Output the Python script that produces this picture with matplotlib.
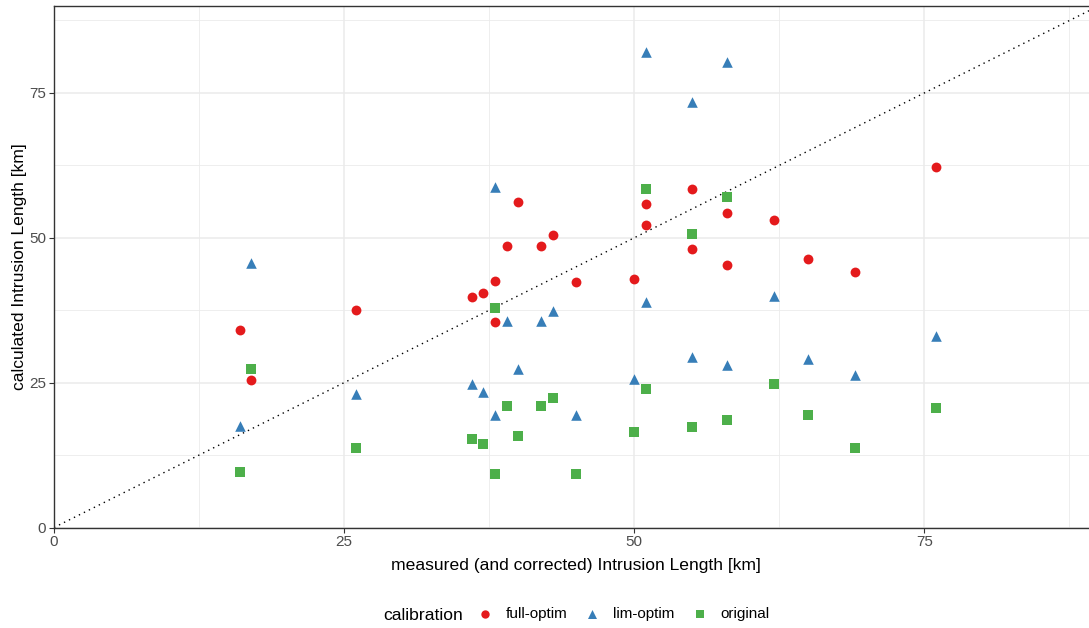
import matplotlib.pyplot as plt
import numpy as np

plt.rcParams['font.family'] = ['Liberation Sans', 'DejaVu Sans']

# measured (and corrected) intrusion length [km]
mesure = [16, 17, 26, 36, 37, 38, 38, 39, 40, 42, 43, 45, 50, 51, 51, 55, 55, 58, 58, 62, 65, 69, 76]

# calculated intrusion length [km] per calibration
full_optim = [34.0, 25.4, 37.6, 39.7, 40.5, 42.6, 35.5, 48.6, 56.2, 48.6, 50.5, 42.4,
              42.9, 55.8, 52.2, 58.5, 48.0, 54.3, 45.3, 53.0, 46.4, 44.1, 62.2]
lim_optim = [17.6, 45.7, 23.0, 24.8, 23.4, 58.7, 19.4, 35.6, 27.4, 35.6, 37.3, 19.4,
             25.7, 82.1, 39.0, 73.4, 29.4, 80.4, 28.0, 39.9, 29.0, 26.4, 33.0]
original = [9.5, 27.3, 13.7, 15.3, 14.4, 37.8, 9.3, 20.9, 15.8, 20.9, 22.3, 9.3,
            16.4, 58.5, 23.9, 50.6, 17.4, 57.0, 18.5, 24.7, 19.4, 13.8, 20.6]

series = ["full-optim", "lim-optim", "original"]
couleurs = ["#E41A1C", "#377EB8", "#4DAF4A"]
marqueurs = ["o", "^", "s"]
tailles = [50, 58, 42]

fig = plt.figure(figsize=(10.89, 6.28), dpi=100)
ax = fig.add_axes([54 / 1089, 1 - 527.5 / 628, (1098.5 - 54) / 1089, (527.5 - 6) / 628])

# ligne 1:1
ax.plot([0, 90], [0, 90], linestyle=(0, (1, 3)), color="black", linewidth=1.0, zorder=2)

for nom, valeurs, c, m, s in zip(series, [full_optim, lim_optim, original], couleurs, marqueurs, tailles):
    ax.scatter(mesure, valeurs, color=c, marker=m, s=s, linewidths=0, label=nom, zorder=3)

ax.set_xlim(0, 90)
ax.set_ylim(0, 90)
ax.set_xticks([0, 25, 50, 75])
ax.set_yticks([0, 25, 50, 75])
ax.set_xticks([12.5, 37.5, 62.5, 87.5], minor=True)
ax.set_yticks([12.5, 37.5, 62.5, 87.5], minor=True)
ax.grid(True, which="major", color="#EBEBEB", linewidth=1.1, zorder=0)
ax.grid(True, which="minor", color="#EBEBEB", linewidth=0.6, zorder=0)
ax.set_axisbelow(True)
ax.tick_params(which="major", length=3.5, width=0.8, color="#333333", labelcolor="#4D4D4D", labelsize=11, pad=2)
ax.tick_params(which="minor", length=0)
for sp in ax.spines.values():
    sp.set_color("#333333")
    sp.set_linewidth(1.0)

ax.set_xlabel("measured (and corrected) Intrusion Length [km]", fontsize=12.6, labelpad=6.5)
ax.set_ylabel("calculated Intrusion Length [km]", fontsize=12.6, labelpad=1.5)

# légende en bas
fig.text(383 / 1089, 1 - 615 / 628, "calibration", fontsize=12.6, ha="left", va="center")
fig.legend(loc="center left", bbox_to_anchor=(474 / 1089, 1 - 614 / 628), ncol=3, frameon=False,
           fontsize=11, handlelength=1.4, handletextpad=0.67, columnspacing=0.94,
           markerscale=0.85, borderaxespad=0, borderpad=0)

fig.savefig("out.png", dpi=100)
